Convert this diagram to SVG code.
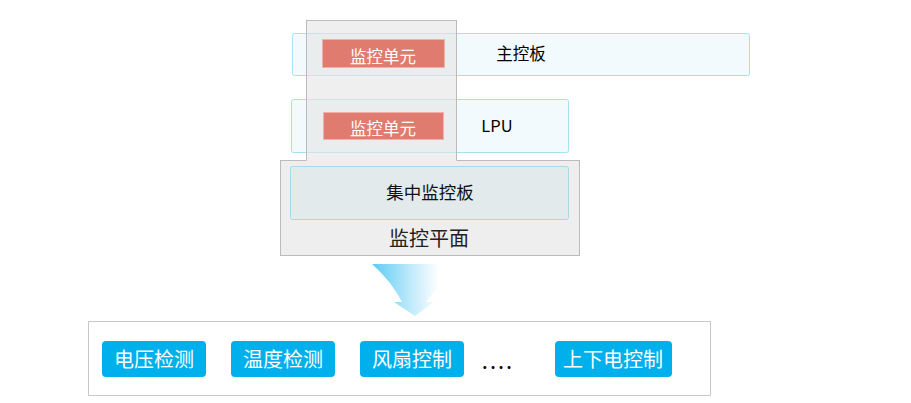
<svg xmlns="http://www.w3.org/2000/svg" width="911" height="403" viewBox="0 0 911 403">
<defs>
<linearGradient id="ag" x1="0" y1="0" x2="1" y2="0">
<stop offset="0" stop-color="#5ccbf3"/>
<stop offset="0.45" stop-color="#bde9fa"/>
<stop offset="0.8" stop-color="#ffffff"/>
</linearGradient>
<style>
text{font-family:"Noto Sans CJK SC","Liberation Sans",sans-serif;text-anchor:middle}
.board{fill:#f2fafd;stroke:#a6e0f3;stroke-width:1}
.unit{fill:#e07b70;stroke:#f2b0a8;stroke-width:1}
.ut{fill:#ffffff;font-size:16.5px}
.bt{fill:#000000;font-size:16.5px}
.btn{fill:#00b0ec}
.btnt{fill:#ffffff;font-size:20px}
</style>
</defs>
<rect width="911" height="403" fill="#ffffff"/>
<g id="plane">
<rect x="280.5" y="160.5" width="299" height="95" fill="#eeeeee" stroke="#bbbbbb"/>
<text x="429" y="246" font-size="20" fill="#222">监控平面</text>
</g>
<g id="main-board">
<rect class="board" x="292.5" y="33.5" width="457" height="42" rx="2"/>
<text class="bt" x="521" y="60">主控板</text>
</g>
<g id="lpu-board">
<rect class="board" x="291.5" y="99.5" width="277" height="53" rx="2"/>
<text class="bt" x="497" y="132" font-size="17" font-family="Liberation Sans,sans-serif">LPU</text>
</g>
<g id="column">
<rect x="306.5" y="20.5" width="150" height="140" fill="#e4e4e4" fill-opacity="0.6" stroke="#bbbbbb"/>
<line x1="306.5" y1="160.5" x2="456.5" y2="160.5" stroke="#eeeeee" stroke-width="1.2"/>
</g>
<g id="unit1">
<rect class="unit" x="322.5" y="39.5" width="122" height="28"/>
<text class="ut" x="383" y="63">监控单元</text>
</g>
<g id="unit2">
<rect class="unit" x="323.5" y="112.5" width="120" height="27"/>
<text class="ut" x="383" y="135">监控单元</text>
</g>
<g id="central-board">
<rect x="290.5" y="166.5" width="278" height="53" rx="2" fill="#e2eaec" stroke="#a8d8ea"/>
<text x="430" y="199" font-size="17.5" fill="#111">集中监控板</text>
</g>
<g id="connectors">
<path d="M372,264 L456,264 Q440,284 426,302 L434,302 L415,316 L394,302 L402,302 Q392,282 372,264 Z" fill="url(#ag)"/>
</g>
<g id="functions">
<rect x="88.5" y="321.5" width="622" height="74" fill="#ffffff" stroke="#c8c8c8"/>
<g id="f1"><rect class="btn" x="102" y="341" width="104" height="36" rx="4"/><text class="btnt" x="154" y="367">电压检测</text></g>
<g id="f2"><rect class="btn" x="231" y="341" width="104" height="36" rx="4"/><text class="btnt" x="283" y="367">温度检测</text></g>
<g id="f3"><rect class="btn" x="360" y="341" width="104" height="36" rx="4"/><text class="btnt" x="412" y="367">风扇控制</text></g>
<text x="498" y="369" font-size="22" letter-spacing="2" fill="#000">....</text>
<g id="f4"><rect class="btn" x="555" y="341" width="117" height="36" rx="4"/><text class="btnt" x="613" y="367">上下电控制</text></g>
</g>
</svg>
